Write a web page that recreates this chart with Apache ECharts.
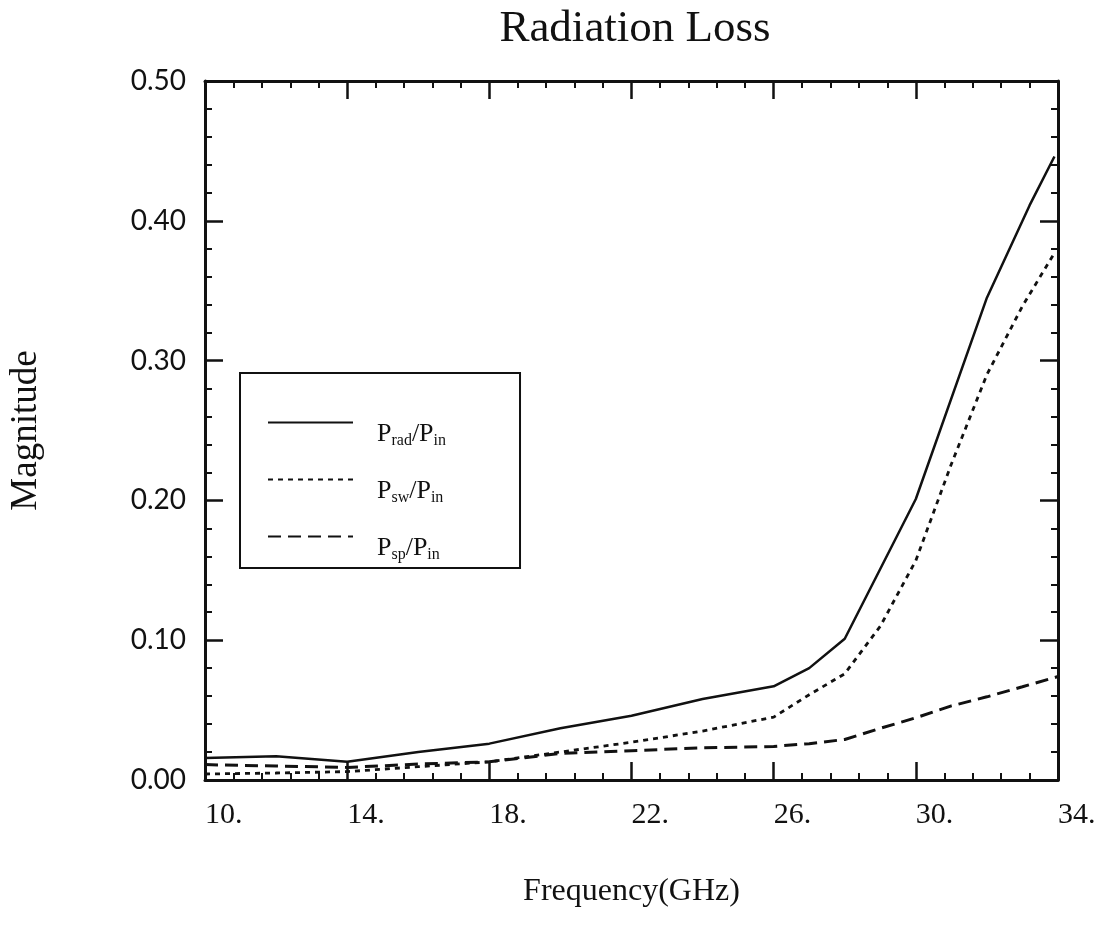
<!DOCTYPE html>
<html>
<head>
<meta charset="utf-8">
<script src="https://cdn.jsdelivr.net/npm/echarts@6/dist/echarts.min.js"></script>
<style>
html,body{margin:0;padding:0;background:#fff;}
#chart{width:1108px;height:926px;}
</style>
</head>
<body>
<div id="chart"></div>
<script>
// ---- data ----
const radFreq = [10, 12, 14, 16, 18, 20, 22, 24, 26, 27, 28, 30, 32, 33.2, 33.9];
const radVals = [0.0157, 0.017, 0.013, 0.020, 0.026, 0.037, 0.046, 0.058, 0.067, 0.080, 0.101, 0.201, 0.345, 0.411, 0.446];

const swFreq = [10, 12, 14, 16, 18, 20, 22, 24, 26, 27, 28, 29, 30, 31, 32, 33, 33.9];
const swVals = [0.0043, 0.005, 0.006, 0.0095, 0.013, 0.020, 0.027, 0.035, 0.045, 0.061, 0.076, 0.110, 0.157, 0.226, 0.290, 0.339, 0.377];

const spFreq = [10, 12, 14, 16, 18, 20, 22, 24, 26, 27, 28, 29, 30, 31, 32, 33, 34];
const spVals = [0.011, 0.010, 0.009, 0.0114, 0.013, 0.019, 0.021, 0.023, 0.024, 0.026, 0.029, 0.037, 0.0445, 0.053, 0.0595, 0.0667, 0.074];

const seriesNames = ['Prad/Pin', 'Psw/Pin', 'Psp/Pin'];
const legendRich = {
  'Prad/Pin': '{g|}{p|P}{s|rad}{p|/P}{s|in}',
  'Psw/Pin': '{g|}{p|P}{s|sw}{p|/P}{s|in}',
  'Psp/Pin': '{g|}{p|P}{s|sp}{p|/P}{s|in}'
};
const titleText = 'Radiation Loss';
const xName = 'Frequency(GHz)';
const yName = 'Magnitude';

function pairs(xs, ys) { return xs.map((x, i) => [x, ys[i]]); }

const serif = 'Liberation Serif';
const ink = '#111';

const commonAxisLine = { show: true, onZero: false, lineStyle: { color: ink, width: 3 } };
const majorTick = { show: true, inside: true, length: 18, lineStyle: { color: ink, width: 2.5 } };
const minorTick = { show: true, splitNumber: 5, length: 7, lineStyle: { color: ink, width: 2 } };

const chart = echarts.init(document.getElementById('chart'), null, { renderer: 'canvas' });
chart.setOption({
  backgroundColor: '#fff',
  animation: false,
  title: {
    text: titleText,
    left: 630,
    textAlign: 'center',
    top: 2,
    textStyle: { fontFamily: serif, fontSize: 45, fontWeight: 'normal', color: ink }
  },
  grid: { left: 204, right: 50, top: 81, bottom: 146 },
  legend: {
    orient: 'vertical',
    left: 240,
    top: 373,
    padding: [23, 74, 5, 27],
    itemGap: 4,
    itemWidth: 85,
    itemHeight: 14,
    borderColor: ink,
    borderWidth: 2,
    data: seriesNames,
    itemStyle: { color: 'rgba(0,0,0,0)', borderWidth: 0, opacity: 0 },
    formatter: name => legendRich[name],
    textStyle: {
      color: ink,
      fontFamily: serif,
      rich: {
        g: { width: 19, height: 53 },
        p: { fontFamily: serif, fontSize: 26, lineHeight: 26, padding: [25, 0, 2, 0], color: ink },
        s: { fontFamily: serif, fontSize: 16, lineHeight: 16, padding: [37, 0, 0, 0], color: ink }
      }
    }
  },
  xAxis: [
    {
      type: 'value', position: 'bottom', min: 10, max: 34, interval: 4,
      name: xName, nameLocation: 'middle', nameGap: 96,
      nameTextStyle: { fontFamily: serif, fontSize: 32, color: ink },
      axisLine: commonAxisLine, axisTick: majorTick, minorTick: minorTick,
      splitLine: { show: false },
      axisLabel: {
        formatter: v => v + '.', align: 'left', margin: 20,
        fontFamily: serif, fontSize: 30, color: ink
      }
    },
    {
      type: 'value', position: 'top', min: 10, max: 34, interval: 4,
      axisLine: commonAxisLine, axisTick: majorTick, minorTick: minorTick,
      splitLine: { show: false }, axisLabel: { show: false }
    }
  ],
  yAxis: [
    {
      type: 'value', position: 'left', min: 0, max: 0.5, interval: 0.1,
      name: yName, nameLocation: 'middle', nameGap: 160,
      nameTextStyle: { fontFamily: serif, fontSize: 37, color: ink },
      axisLine: commonAxisLine, axisTick: majorTick, minorTick: minorTick,
      splitLine: { show: false },
      axisLabel: {
        formatter: v => v.toFixed(2), margin: 19,
        fontFamily: 'Lato', fontSize: 28, color: ink
      }
    },
    {
      type: 'value', position: 'right', min: 0, max: 0.5, interval: 0.1,
      axisLine: commonAxisLine, axisTick: majorTick, minorTick: minorTick,
      splitLine: { show: false }, axisLabel: { show: false }
    }
  ],
  series: [
    {
      name: seriesNames[0], type: 'line', data: pairs(radFreq, radVals),
      symbol: 'none', lineStyle: { color: ink, width: 2.5, type: 'solid' }, itemStyle: { color: ink }
    },
    {
      name: seriesNames[1], type: 'line', data: pairs(swFreq, swVals),
      symbol: 'none', lineStyle: { color: ink, width: 2.8, type: [5, 5] }, itemStyle: { color: ink }
    },
    {
      name: seriesNames[2], type: 'line', data: pairs(spFreq, spVals),
      symbol: 'none', lineStyle: { color: ink, width: 3, type: [13, 7] }, itemStyle: { color: ink }
    }
  ]
});
</script>
</body>
</html>
